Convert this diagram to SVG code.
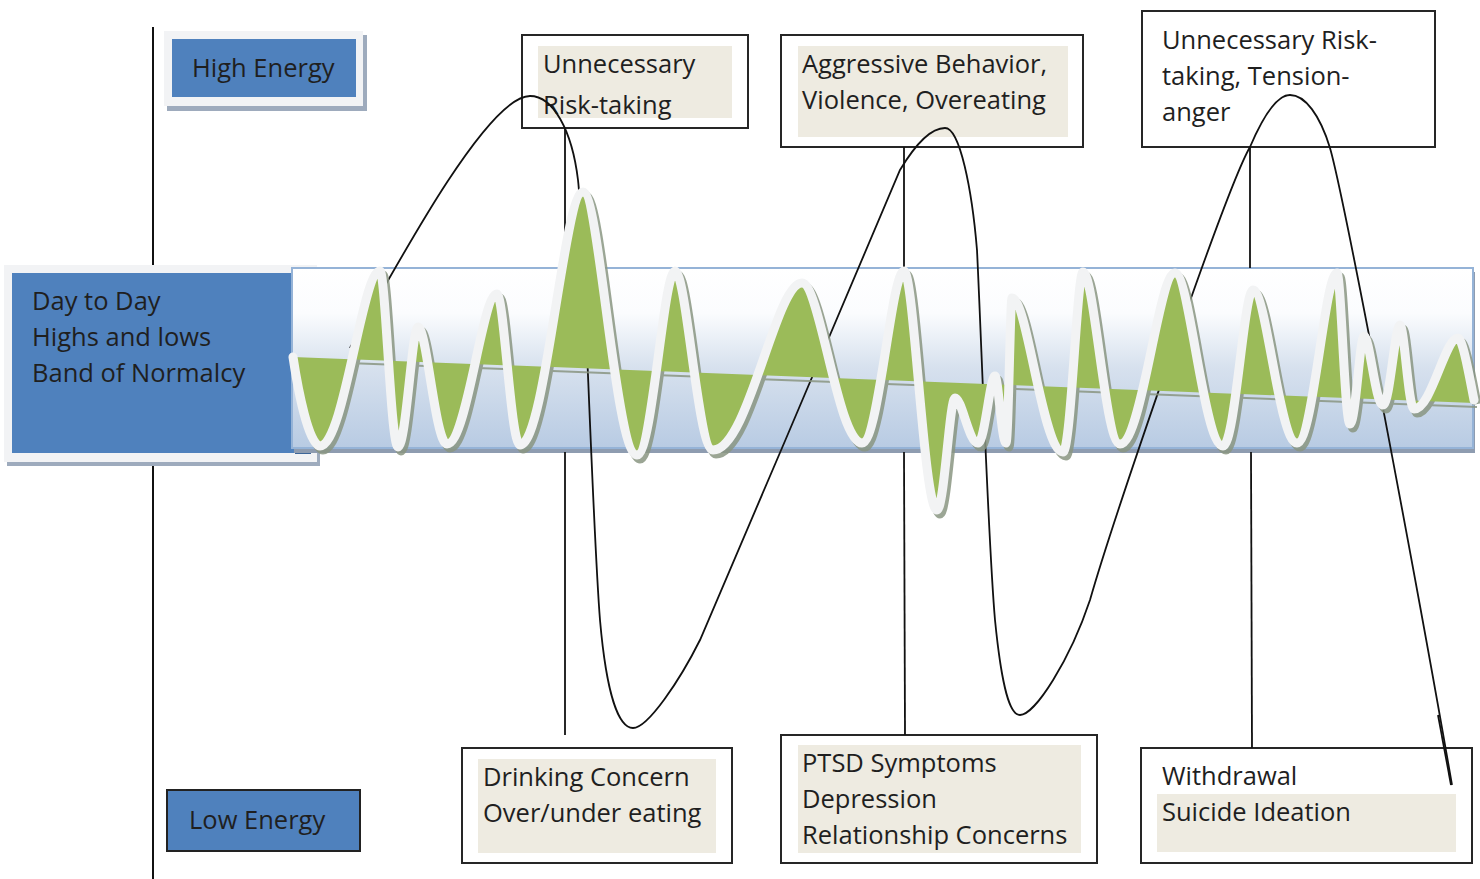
<svg xmlns="http://www.w3.org/2000/svg" width="1480" height="879" viewBox="0 0 1480 879">
<defs>
<linearGradient id="bandGrad" x1="0" y1="0" x2="0" y2="1">
<stop offset="0" stop-color="#ffffff"/>
<stop offset="0.25" stop-color="#fbfcfe"/>
<stop offset="0.55" stop-color="#d7e1ee"/>
<stop offset="1" stop-color="#b8cbe3"/>
</linearGradient>
<path id="wavePath" d="M293,357 C298,390 309,446 320,446 C344,446 362,271 380,271 C385.4,271 390.8,447 398,447 C406,447 412,327 418,327 C426.7,327 435.4,444 447,444 C467,444 482,294 497,294 C503.9,294 510.8,445 520,445 C545.2,445 564.1,192 583,192 C599.2,192 615.4,455 637,455 C652.2,455 663.6,271 675,271 C686.4,271 697.8,450 713,450 C748.6,450 775.3,283 802,283 C820,283 838,443 862,443 C878.8,443 891.4,271 904,271 C913.9,271 923.8,510 937,510 C944.2,510 949.6,398 955,398 C961.9,398 968.8,443 978,443 C984.8,443 989.9,376 995,376 C998.3,376 1001.6,443 1006,443 C1008.4,443 1010.2,298 1012,298 C1027.3,298 1042.6,452 1063,452 C1071,452 1077,272 1083,272 C1094.1,272 1105.2,444 1120,444 C1142,444 1158.5,273 1175,273 C1189.4,273 1203.8,446 1223,446 C1235,446 1244,290 1253,290 C1266.2,290 1279.4,443 1297,443 C1313,443 1325,273 1337,273 C1340.9,273 1344.8,424 1350,424 C1355.6,424 1359.8,336 1364,336 C1369.7,336 1375.4,405 1383,405 C1389.8,405 1394.9,325 1400,325 C1404.2,325 1408.4,409 1414,409 C1431.6,409 1444.8,338 1458,338 C1462.8,338 1470,380 1474,400"/>
</defs>
<style>
.txt{font-family:"Open Sans","Noto Sans","Liberation Sans",sans-serif;font-size:25.5px;fill:#1f1f1f;}
.box{fill:#ffffff;stroke:#262626;stroke-width:2;}
.tan{fill:#eeebe1;}
.blue{fill:#4f81bd;}
.frame{fill:#f2f3f5;}
.shadow{fill:#9eabbd;}
.conn{fill:none;stroke:#111;stroke-width:1.8;}
.axis{stroke:#111;stroke-width:2;}
</style>
<rect width="1480" height="879" fill="#ffffff"/>

<g id="axis">
<line class="axis" x1="153" y1="27" x2="153" y2="879"/>
</g>

<g id="high-energy">
<rect class="shadow" x="167" y="35" width="200" height="76"/>
<rect class="frame" x="164" y="31" width="199" height="75"/>
<rect class="blue" x="172" y="39" width="184" height="58"/>
<text class="txt" x="192" y="77">High Energy</text>
</g>

<g id="low-energy">
<rect class="blue" x="167" y="790" width="193" height="61" stroke="#222" stroke-width="2"/>
<text class="txt" x="189" y="829">Low Energy</text>
</g>

<g id="band-label">
<rect class="shadow" x="7" y="269" width="313" height="197"/>
<rect class="frame" x="4" y="265" width="313" height="197"/>
<rect class="blue" x="12" y="273" width="298" height="180"/>
<rect x="295" y="448" width="16" height="6" fill="#3d6698"/>
<text class="txt" x="32" y="310">Day to Day</text>
<text class="txt" x="32" y="346">Highs and lows</text>
<text class="txt" x="32" y="382">Band of Normalcy</text>
</g>

<g id="box-top-1">
<rect class="box" x="522" y="35" width="226" height="93"/>
<rect class="tan" x="538" y="46" width="194" height="72"/>
<text class="txt" x="543" y="73">Unnecessary</text>
<text class="txt" x="543" y="114">Risk-taking</text>
</g>

<g id="box-top-2">
<rect class="box" x="781" y="35" width="302" height="112"/>
<rect class="tan" x="798" y="46" width="270" height="91"/>
<text class="txt" x="802" y="73">Aggressive Behavior,</text>
<text class="txt" x="802" y="109">Violence, Overeating</text>
</g>

<g id="box-top-3">
<rect class="box" x="1142" y="11" width="293" height="136"/>
<text class="txt" x="1162" y="49">Unnecessary Risk-</text>
<text class="txt" x="1162" y="85">taking, Tension-</text>
<text class="txt" x="1162" y="121">anger</text>
</g>

<g id="box-bottom-1">
<rect class="box" x="462" y="748" width="270" height="115"/>
<rect class="tan" x="478" y="759" width="238" height="94"/>
<text class="txt" x="483" y="786">Drinking Concern</text>
<text class="txt" x="483" y="822">Over/under eating</text>
</g>

<g id="box-bottom-2">
<rect class="box" x="781" y="735" width="316" height="128"/>
<rect class="tan" x="798" y="745" width="283" height="108"/>
<text class="txt" x="802" y="772">PTSD Symptoms</text>
<text class="txt" x="802" y="808">Depression</text>
<text class="txt" x="802" y="844">Relationship Concerns</text>
</g>

<g id="box-bottom-3">
<rect class="box" x="1141" y="748" width="331" height="115"/>
<rect class="tan" x="1157" y="794" width="299" height="58"/>
<text class="txt" x="1162" y="785">Withdrawal</text>
<text class="txt" x="1162" y="821">Suicide Ideation</text>
</g>

<g id="band">
<rect x="294" y="272" width="1181" height="181" fill="#8e9cb0"/>
<rect x="292" y="268" width="1181" height="180" fill="url(#bandGrad)" stroke="#95b3d7" stroke-width="2"/>
</g>

<g id="connectors">
<line class="conn" x1="565" y1="128" x2="565" y2="268"/>
<line class="conn" x1="565" y1="452" x2="565" y2="735"/>
<line class="conn" x1="904" y1="147" x2="904" y2="268"/>
<line class="conn" x1="904" y1="452" x2="905" y2="735"/>
<line class="conn" x1="1250" y1="147" x2="1250" y2="268"/>
<line class="conn" x1="1251" y1="452" x2="1252" y2="748"/>
<path class="conn" d="M350,348 C410,240 490,96 530,96 C553,96 572,130 578,180 C584,230 592,520 600,620 C607,700 620,728 633,728 C648,728 680,680 700,640 C760,500 860,265 900,170 C918,140 932,128 945,128 C960,128 972,190 977,250 C981,330 988,540 995,620 C1002,690 1010,715 1020,715 C1035,715 1070,660 1090,600 C1110,530 1225,190 1250,147 C1265,112 1278,95 1290,95 C1305,95 1320,115 1330,148 C1345,200 1420,600 1452,785"/>
<line class="conn" x1="1438" y1="715" x2="1451" y2="785"/>
</g>

<g id="wave">
<g transform="translate(3,4)" opacity="0.85">
<use href="#wavePath" fill="none" stroke="#8a9682" stroke-width="9"/>
<path d="M1474,403 L293,357 Z" fill="none" stroke="#8a9682" stroke-width="2"/>
</g>
<path fill="#9bbb59" d="M293,357 C298,390 309,446 320,446 C344,446 362,271 380,271 C385.4,271 390.8,447 398,447 C406,447 412,327 418,327 C426.7,327 435.4,444 447,444 C467,444 482,294 497,294 C503.9,294 510.8,445 520,445 C545.2,445 564.1,192 583,192 C599.2,192 615.4,455 637,455 C652.2,455 663.6,271 675,271 C686.4,271 697.8,450 713,450 C748.6,450 775.3,283 802,283 C820,283 838,443 862,443 C878.8,443 891.4,271 904,271 C913.9,271 923.8,510 937,510 C944.2,510 949.6,398 955,398 C961.9,398 968.8,443 978,443 C984.8,443 989.9,376 995,376 C998.3,376 1001.6,443 1006,443 C1008.4,443 1010.2,298 1012,298 C1027.3,298 1042.6,452 1063,452 C1071,452 1077,272 1083,272 C1094.1,272 1105.2,444 1120,444 C1142,444 1158.5,273 1175,273 C1189.4,273 1203.8,446 1223,446 C1235,446 1244,290 1253,290 C1266.2,290 1279.4,443 1297,443 C1313,443 1325,273 1337,273 C1340.9,273 1344.8,424 1350,424 C1355.6,424 1359.8,336 1364,336 C1369.7,336 1375.4,405 1383,405 C1389.8,405 1394.9,325 1400,325 C1404.2,325 1408.4,409 1414,409 C1431.6,409 1444.8,338 1458,338 C1462.8,338 1470,380 1474,400 L1474,403 L293,357 Z"/>
<use href="#wavePath" fill="none" stroke="#f2f3f4" stroke-width="9" stroke-linejoin="round" stroke-linecap="round"/>
</g>
</svg>
